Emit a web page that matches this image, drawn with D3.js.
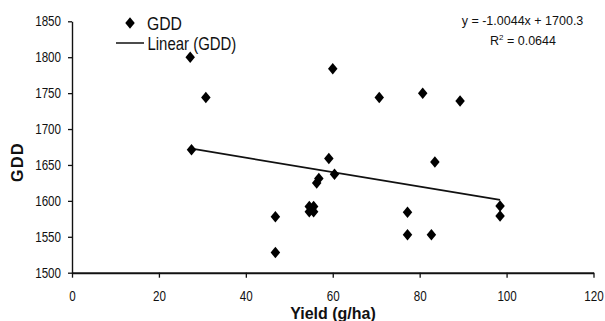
<!DOCTYPE html>
<html>
<head>
<meta charset="utf-8">
<script src="https://cdn.jsdelivr.net/npm/d3@7"></script>
<style>
  html, body { margin: 0; padding: 0; background: #fff; }
  svg { display: block; }
  text { font-family: "Liberation Sans", Arial, sans-serif; }
</style>
</head>
<body>
<svg id="chart" width="605" height="321"></svg>
<script>
// Yield (g/ha) vs growing degree days, one entry per plot
const yieldVals = [27.2, 30.8, 27.5, 60.0, 59.1, 60.4, 56.3, 56.8, 54.6, 55.6, 54.6, 55.6,
                   46.8, 46.8, 70.7, 80.7, 89.3, 83.5, 77.2, 77.2, 82.7, 98.5, 98.5];
const gddVals   = [1800, 1744, 1671, 1784, 1659, 1637, 1625, 1631, 1592, 1592, 1585, 1585,
                   1578, 1528, 1744, 1750, 1739, 1654, 1584, 1553, 1553, 1593, 1579];

// Linear trend fitted to the series
const slope = -1.0044;
const intercept = 1700.3;
const rSquared = 0.0644;

const xTicks = [0, 20, 40, 60, 80, 100, 120];
const yTicks = [1500, 1550, 1600, 1650, 1700, 1750, 1800, 1850];

const svg = d3.select("#chart");
const plotLeft = 72, plotRight = 593.5, plotTop = 21.3, plotBottom = 272.7;
const squeeze = 0.83; // condensed look for axis and legend labels

const x = d3.scaleLinear().domain([0, 120]).range([plotLeft, plotRight]);
const y = d3.scaleLinear().domain([1500, 1850]).range([plotBottom, plotTop]);

// Axes
const xAxis = svg.append("g")
  .attr("transform", `translate(0,${plotBottom})`)
  .call(d3.axisBottom(x).tickValues(xTicks).tickFormat(d3.format("d"))
    .tickSize(5).tickSizeOuter(0).tickPadding(13));
xAxis.select(".domain").attr("stroke", "#111").attr("stroke-width", 2);
xAxis.selectAll(".tick line").attr("stroke", "#111").attr("stroke-width", 1.3);
xAxis.selectAll("text").attr("font-size", 14).attr("fill", "#111")
  .attr("font-family", "'Liberation Sans', Arial, sans-serif")
  .attr("transform", `scale(${squeeze},1)`);

const yAxis = svg.append("g")
  .attr("transform", `translate(${plotLeft},0)`)
  .call(d3.axisLeft(y).tickValues(yTicks).tickFormat(d3.format("d"))
    .tickSize(4).tickSizeOuter(0).tickPadding(7));
yAxis.select(".domain").attr("stroke", "#111").attr("stroke-width", 1.4);
yAxis.selectAll(".tick line").attr("stroke", "#111").attr("stroke-width", 1.3);
yAxis.selectAll("text").attr("font-size", 14).attr("fill", "#111")
  .attr("font-family", "'Liberation Sans', Arial, sans-serif")
  .attr("x", -11 / squeeze)
  .attr("transform", `scale(${squeeze},1)`);

// Diamond marker
const diamond = (w, h) => `M0,${-h / 2}L${w / 2},0L0,${h / 2}L${-w / 2},0Z`;

// Trend line across the range of observed yields
const [xMin, xMax] = d3.extent(yieldVals);
svg.append("line")
  .attr("x1", x(xMin)).attr("y1", y(slope * xMin + intercept))
  .attr("x2", x(xMax)).attr("y2", y(slope * xMax + intercept))
  .attr("stroke", "#111").attr("stroke-width", 1.8);

// Points
svg.append("g").selectAll("path")
  .data(yieldVals.map((v, i) => [v, gddVals[i]]))
  .join("path")
  .attr("d", diamond(9.5, 11.5))
  .attr("transform", d => `translate(${x(d[0])},${y(d[1])})`)
  .attr("fill", "#000");

// Legend
svg.append("path").attr("d", diamond(9.5, 11.5))
  .attr("transform", "translate(130,23)").attr("fill", "#000");
svg.append("text").attr("transform", `translate(147,29.5) scale(${squeeze},1)`)
  .attr("font-size", 19).attr("fill", "#111").text("GDD");
svg.append("line").attr("x1", 116).attr("x2", 144).attr("y1", 43).attr("y2", 43)
  .attr("stroke", "#111").attr("stroke-width", 1.5);
svg.append("text").attr("transform", `translate(147.5,50) scale(${squeeze},1)`)
  .attr("font-size", 18).attr("fill", "#111").text("Linear (GDD)");

// Trend equation and fit
svg.append("text").attr("x", 522.5).attr("y", 24.5)
  .attr("text-anchor", "middle").attr("font-size", 12.5).attr("fill", "#111")
  .text(`y = ${slope.toFixed(4)}x + ${intercept}`);
const r2 = svg.append("text").attr("x", 523).attr("y", 45.3)
  .attr("text-anchor", "middle").attr("font-size", 12.5).attr("fill", "#111");
r2.append("tspan").text("R");
r2.append("tspan").attr("dy", -5).attr("font-size", 8).text("2");
r2.append("tspan").attr("dy", 5).text(` = ${rSquared}`);

// Axis titles
svg.append("text").attr("font-weight", "bold").attr("font-size", 16)
  .attr("text-anchor", "middle").attr("fill", "#111")
  .attr("transform", "translate(23,162) rotate(-90)").attr("letter-spacing", 1.5).text("GDD");
svg.append("text").attr("font-weight", "bold").attr("font-size", 16)
  .attr("text-anchor", "middle").attr("fill", "#111")
  .attr("x", 333).attr("y", 318.5).text("Yield (g/ha)");
</script>
</body>
</html>
